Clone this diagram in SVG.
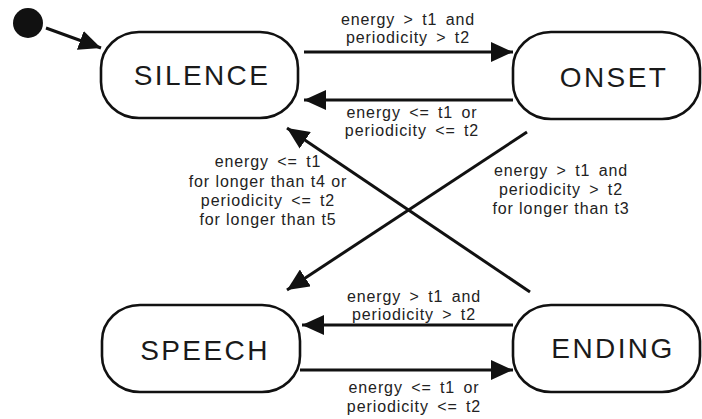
<svg xmlns="http://www.w3.org/2000/svg" width="702" height="419" viewBox="0 0 702 419">
  <defs>
    <marker id="arrow" markerUnits="userSpaceOnUse" markerWidth="22" markerHeight="20" viewBox="0 0 22 20" refX="22" refY="10" orient="auto">
      <path d="M0,0 L22,10 L0,20 Z" fill="#111"/>
    </marker>
    <style>
      .state rect { fill: #fff; stroke: #111; stroke-width: 2.6; }
      .state text { font-family: "Liberation Sans", Arial, sans-serif; font-size: 28px; letter-spacing: 2.4px; fill: #1a1a1a; text-anchor: middle; }
      .edges line { stroke: #111; stroke-width: 3; marker-end: url(#arrow); }
      .label { font-family: "Liberation Sans", Arial, sans-serif; font-size: 16px; letter-spacing: 0.9px; fill: #222; text-anchor: middle; }
      .op { word-spacing: 3px; }
    </style>
  </defs>
  <rect width="702" height="419" fill="#fff"/>

  <!-- initial pseudo-state -->
  <g id="start">
    <circle cx="28" cy="23" r="15" fill="#111"/>
  </g>

  <g id="silence" class="state">
    <rect x="101" y="32" width="197" height="86" rx="38" ry="36"/>
    <text x="202" y="85">SILENCE</text>
  </g>
  <g id="onset" class="state">
    <rect x="513" y="32" width="187" height="87" rx="38" ry="36"/>
    <text x="614" y="87">ONSET</text>
  </g>
  <g id="speech" class="state">
    <rect x="102" y="305" width="198" height="87" rx="38" ry="36"/>
    <text x="205" y="360">SPEECH</text>
  </g>
  <g id="ending" class="state">
    <rect x="513" y="305" width="187" height="87" rx="38" ry="36"/>
    <text x="613" y="358">ENDING</text>
  </g>

  <!-- transitions -->
  <g id="connectors" class="edges">
    <line x1="46" y1="28" x2="101" y2="48"/>
    <line x1="304" y1="52" x2="513" y2="52"/>
    <line x1="513" y1="100" x2="304" y2="100"/>
    <line x1="527" y1="132" x2="287" y2="290"/>
    <line x1="530" y1="292" x2="287" y2="128"/>
    <line x1="513" y1="325" x2="302" y2="325"/>
    <line x1="300" y1="370" x2="513" y2="370"/>
  </g>

  <!-- transition conditions -->
  <g id="labels">
    <text class="label op" x="408" y="25">energy &gt; t1 and</text>
    <text class="label op" x="408" y="43">periodicity &gt; t2</text>

    <text class="label op" x="412" y="118">energy &lt;= t1 or</text>
    <text class="label op" x="412" y="136">periodicity &lt;= t2</text>

    <text class="label op" x="268" y="167">energy &lt;= t1</text>
    <text class="label" x="268" y="187">for longer than t4 or</text>
    <text class="label op" x="268" y="206">periodicity &lt;= t2</text>
    <text class="label" x="268" y="225">for longer than t5</text>

    <text class="label op" x="561" y="176">energy &gt; t1 and</text>
    <text class="label op" x="561" y="195">periodicity &gt; t2</text>
    <text class="label" x="561" y="214">for longer than t3</text>

    <text class="label op" x="414" y="302">energy &gt; t1 and</text>
    <text class="label op" x="414" y="320">periodicity &gt; t2</text>

    <text class="label op" x="414" y="393">energy &lt;= t1 or</text>
    <text class="label op" x="414" y="412">periodicity &lt;= t2</text>
  </g>
</svg>
